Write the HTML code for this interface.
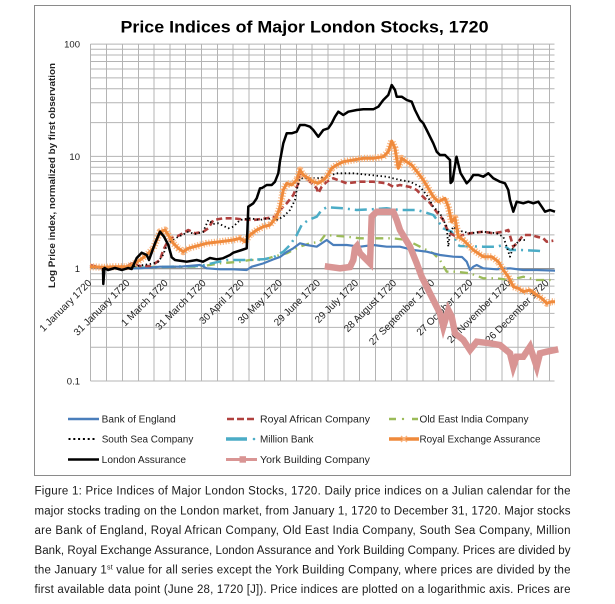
<!DOCTYPE html>
<html><head><meta charset="utf-8"><style>
html,body{margin:0;padding:0;background:#fff;}
svg{display:block;}
text{font-family:"Liberation Sans",Arial,sans-serif;}
</style></head><body>
<svg width="615" height="604" viewBox="0 0 615 604" xmlns="http://www.w3.org/2000/svg">
<rect x="0" y="0" width="615" height="604" fill="#fff"/>
<rect x="34.5" y="5.5" width="536" height="470" fill="none" stroke="#8a8a8a" stroke-width="1"/>
<text x="120.5" y="32.5" font-size="17" font-weight="bold" fill="#000" textLength="368" lengthAdjust="spacingAndGlyphs">Price Indices of Major London Stocks, 1720</text>

<!-- gridlines -->
<g stroke="#b4b4b4" stroke-width="1" fill="none">
<path d="M90.5 44V381 M106.5 44V381 M122.5 44V381 M138.5 44V381 M154 44V381 M170 44V381 M185.5 44V381 M201.5 44V381 M217.5 44V381 M233 44V381 M249 44V381 M264.5 44V381 M280.5 44V381 M296.5 44V381 M312 44V381 M328 44V381 M344 44V381 M359.5 44V381 M375.5 44V381 M391.5 44V381 M407 44V381 M423 44V381 M438.5 44V381 M454.5 44V381 M470.5 44V381 M486 44V381 M502 44V381 M518 44V381 M533.5 44V381 M549.5 44V381"/>
<path d="M90.5 44.1H554.5 M90.5 49.2H554.5 M90.5 55H554.5 M90.5 61.5H554.5 M90.5 69H554.5 M90.5 77.9H554.5 M90.5 88.8H554.5 M90.5 102.8H554.5 M90.5 122.6H554.5 M90.5 156.4H554.5
M90.5 161.5H554.5 M90.5 167.3H554.5 M90.5 173.8H554.5 M90.5 181.3H554.5 M90.5 190.2H554.5 M90.5 201.1H554.5 M90.5 215.1H554.5 M90.5 234.9H554.5
M90.5 273.8H554.5 M90.5 279.6H554.5 M90.5 286.1H554.5 M90.5 293.6H554.5 M90.5 302.5H554.5 M90.5 313.4H554.5 M90.5 327.4H554.5 M90.5 347.2H554.5 M90.5 381H554.5"/>
</g>
<path d="M90.5 268.7H554.5" stroke="#868686" stroke-width="1.2"/>

<!-- y labels -->
<g font-size="9.5" fill="#222" text-anchor="end">
<text x="80" y="47.5">100</text>
<text x="80" y="159.8">10</text>
<text x="80" y="272.1">1</text>
<text x="80" y="384.4">0.1</text>
</g>
<text transform="translate(55,175.5) rotate(-90)" text-anchor="middle" font-size="9.5" font-weight="bold" fill="#222" textLength="225" lengthAdjust="spacingAndGlyphs">Log Price index, normalized by first observation</text>

<!-- x labels -->
<g font-size="10" fill="#222" text-anchor="end">
<text transform="translate(92.2,283.5) rotate(-45)">1 January 1720</text>
<text transform="translate(130.3,283.5) rotate(-45)">31 January 1720</text>
<text transform="translate(168.4,283.5) rotate(-45)">1 March 1720</text>
<text transform="translate(206.5,283.5) rotate(-45)">31 March 1720</text>
<text transform="translate(244.6,283.5) rotate(-45)">30 April 1720</text>
<text transform="translate(282.7,283.5) rotate(-45)">30 May 1720</text>
<text transform="translate(320.8,283.5) rotate(-45)">29 June 1720</text>
<text transform="translate(358.9,283.5) rotate(-45)">29 July 1720</text>
<text transform="translate(397,283.5) rotate(-45)">28 August 1720</text>
<text transform="translate(435.1,283.5) rotate(-45)">27 September 1720</text>
<text transform="translate(473.2,283.5) rotate(-45)">27 October 1720</text>
<text transform="translate(511.3,283.5) rotate(-45)">26 November 1720</text>
<text transform="translate(549.4,283.5) rotate(-45)">26 December 1720</text>
</g>

<!-- series -->
<g fill="none" stroke-linejoin="round">
<!-- Old East India -->
<polyline stroke="#9bbb59" stroke-width="2.3" stroke-dasharray="8 5 1.5 5" points="90,267 140,267 200,266.7 220,263.3 240,261.7 250,260 263.3,260 273.3,256.7 286.7,253.3 300,246.7 310,243.3 320,241.7 325,235 346.7,236.7 360,238.3 393.3,238.3 406.7,240 420,246.7 433.3,253.3 440,260 446.7,271.7 456.7,271.7 470,273.3 483.3,278.3 496.7,278.3 510,280 523.3,276.7 536.7,280 553.3,280"/>
<!-- Million Bank -->
<polyline stroke="#4bacc6" stroke-width="2.5" stroke-dasharray="12 5 2 5" points="90,266.7 126.7,268.3 160,267 200,266 226.7,260 246.7,260 263.3,259.3 273.3,257.3 283.3,251.7 290,245 296.7,235 301.7,225 308.3,220 316.7,216.7 321.7,210 326.7,207.3 343.3,208.3 356.7,210 370,209.3 386.7,208.3 400,210 416.7,210 423.3,211.7 433.3,215 443.3,228.3 451.7,231.7 458,245 460,246 483.3,246.7 496.7,246.7 503.3,245 510,250 520,250 536.7,250.7 545,251.5"/>
<!-- Bank of England -->
<polyline stroke="#4a7ebb" stroke-width="2.2" points="90,266.7 100,268.3 120,268.3 140,268.3 160,266.7 180,266.7 200,265 206.7,268.3 220,269.3 233.3,269.3 246.7,270 251.7,266.7 263,263.5 273,259.5 280,257 286.7,252 293.3,248.3 300,243.3 306.7,245 316.7,246.7 326.7,240 333.3,245 346.7,245 360,246.7 373.3,245 386.7,246.7 400,246.7 413.3,250 426.7,251.7 440,255 453.3,256.7 462,257 466.7,261.7 470,270 473.3,266.7 476.7,265 483.3,268.3 496.7,269.3 510,268.3 523.3,270 536.7,270 555,270.7"/>
<!-- Royal African -->
<polyline stroke="#b0413e" stroke-width="2.6" stroke-dasharray="6 3.5" points="90,265 103.3,268.3 126.7,266.7 131.7,263.3 140,266 150,266 155,263.3 160,260 163.3,250 166.7,243.3 171.7,238.3 180,235 188.3,230 195,233.3 203.3,231.7 208.3,228.3 213.3,220 223.3,218.3 233.3,218.3 241.7,219.3 253.3,220 266.7,218.3 275,216.7 280,210 286.7,203.3 293.3,195 298.3,183.3 300,171.7 305,176.7 310,181.7 316.7,188.3 318.3,193.3 321.7,186.7 326.7,181.7 333.3,178.3 346.7,183.3 360,181.7 373.3,181.7 386.7,183.3 393.3,186.7 400,185 410,187 416.7,190 423.3,197 430,203 436.7,212 443.3,220 446.7,228.3 450,233.3 456.7,236.7 470,233.3 483.3,231.7 493.3,233.3 503.3,231.7 508.3,230 513.3,246.7 518.3,241.7 523.3,235 531.7,235 536.7,236.7 543.3,238.3 546.7,241.7 553.3,240.7"/>
<!-- South Sea -->
<polyline stroke="#000" stroke-width="1.8" stroke-dasharray="1.4 2.6" points="90,267 110,268 130,267 150,264 158,262 163,255 167,245 172,240 180,236 188,232 195,234 203,232 208.3,220 213,224 218.3,223.3 228.3,228.3 233.3,226.7 240,220 250,218.3 260,220 266.7,218.3 276.7,220 283.3,216.7 290,210 295,200 296.7,190 300,178.3 306.7,178.3 316.7,178.3 326.7,176.7 336.7,173.3 353.3,173.3 370,175 386.7,176.7 400,180 410,181.7 420,186.7 426.7,195 433.3,206.7 440,213.3 446.7,226.7 448.3,246.7 450,233.3 453.3,226.7 456.7,230 470,233.3 483.3,231.7 496.7,233.3 503.3,236.7 510,256.7 513.3,246.7 520,240 527,240"/>
<!-- York Building -->
<polyline stroke="#d99594" stroke-width="6.5" stroke-linejoin="miter" stroke-linecap="square" points="328,266.7 340,268.3 350,267 353.3,260 355,248.3 357,246 360,253.3 366.7,260 370,263.3 371.7,216.7 376.7,211.7 393.3,211.7 396.7,220 400,230 410,246.7 416.7,263.3 421.7,276.7 428.3,290 433.3,300 440,313.3 443.3,326.7 448.3,310 451.7,316.7 455,333.3 463.3,340 470,350 476.7,341.7 490,343.3 500,345 510,353.3 513.3,366.7 516.7,356.7 523.3,356.7 530,346.7 536.7,366.7 540,353.3 546.7,351.7 555,350"/>
<!-- Royal Exchange -->
<polyline stroke="#f9b47e" stroke-width="7" stroke-dasharray="1.2 1.6" points="90,266.7 103.3,267.3 115,266.7 126.7,266.7 131.7,265 140,260 146.7,255 153.3,248.3 156.7,240 160,231.7 165,230 168.3,235 173.3,243.3 178.3,248.3 183.3,251.7 188.3,248.3 196.7,246 206.7,243.3 220,241.7 233.3,240 240,238.3 245,241.7 250,235 256.7,230 263.3,226.7 270,225 276.7,216.7 280,206.7 283.3,190 286.7,183.3 291.7,185 296.7,180 300,170 303.3,175 308.3,178.3 313.3,181.7 318.3,183.3 323.3,180 326.7,176.7 331.7,168.3 336.7,165 343.3,161.7 353.3,160 363.3,158.3 373.3,158.3 383.3,156.7 388.3,151.7 391.7,141 395,148.3 398.3,168.3 401.7,158.3 406.7,161.7 411.7,165 418.3,173.3 423.3,180 428.3,188.3 433.3,196.7 438.3,201.7 445,198.3 448.3,206.7 451.7,222 455,218 458.3,236.7 463.3,240 468.3,245 473.3,250 483.3,256.7 491.7,256.7 498.3,261.7 503.3,270 508.3,276.7 513.3,286.7 518.3,288.3 523.3,291.7 530,290 536.7,295 541.7,298.3 546.7,303.3 551.7,301.7 555,301.7"/>
<polyline stroke="#ef8a3c" stroke-width="3" points="90,266.7 103.3,267.3 115,266.7 126.7,266.7 131.7,265 140,260 146.7,255 153.3,248.3 156.7,240 160,231.7 165,230 168.3,235 173.3,243.3 178.3,248.3 183.3,251.7 188.3,248.3 196.7,246 206.7,243.3 220,241.7 233.3,240 240,238.3 245,241.7 250,235 256.7,230 263.3,226.7 270,225 276.7,216.7 280,206.7 283.3,190 286.7,183.3 291.7,185 296.7,180 300,170 303.3,175 308.3,178.3 313.3,181.7 318.3,183.3 323.3,180 326.7,176.7 331.7,168.3 336.7,165 343.3,161.7 353.3,160 363.3,158.3 373.3,158.3 383.3,156.7 388.3,151.7 391.7,141 395,148.3 398.3,168.3 401.7,158.3 406.7,161.7 411.7,165 418.3,173.3 423.3,180 428.3,188.3 433.3,196.7 438.3,201.7 445,198.3 448.3,206.7 451.7,222 455,218 458.3,236.7 463.3,240 468.3,245 473.3,250 483.3,256.7 491.7,256.7 498.3,261.7 503.3,270 508.3,276.7 513.3,286.7 518.3,288.3 523.3,291.7 530,290 536.7,295 541.7,298.3 546.7,303.3 551.7,301.7 555,301.7"/>
<!-- London Assurance -->
<polyline stroke="#000" stroke-width="2.5" points="103,268 103.3,284 104.5,268 108,270 115,268 122,270 128,268 131.7,269 136.7,258 141.7,252.7 146.7,255 149,260 155,243.3 160,231.7 164,236.7 168.3,245 171.7,257.3 175,260 180,260.7 186.7,261.7 196.7,260 203,261.7 210,258 216.7,259.3 223,258.3 230,255 233.3,252.7 241.7,250 246.7,248.3 248.3,206.7 253.3,203.3 256.7,198.3 260,188.3 262,188 266.7,185 271.7,185 275,181.7 278.3,173.3 280,161 283.3,143.3 286.7,133.3 291.7,133.3 296.7,131.7 300,125 305,125 310,126.7 313.3,130 318.3,136.7 323.3,130 328.3,128.3 331.7,123.3 335,116.7 338.3,111.7 343.3,115 348.3,111.7 356.7,110 363.3,109.3 373.3,109.3 378.3,106.7 383.3,100 388.3,95 391.7,85 395,90 396.7,96.7 401.7,96.7 406.7,100 411.7,101.7 415,110 420,120 423.3,123.3 426.7,130 430,136.7 433.3,143.3 436.7,151.7 440,155 445,155 450,160 450.6,183 452.5,181 456.5,156.7 460.5,173 466.7,183.3 470,180 473.3,175 478.3,175 483.3,176.7 488.3,173.3 493.3,178.3 500,181.7 505,183.3 508.3,190 510,200 513.3,211.7 516.7,201.7 523.3,203.3 528.3,201.7 533.3,203.3 538.3,201.7 541.7,206.7 545,211.7 550,210 555,211.7"/>
</g>

<!-- legend -->
<g fill="none">
<line x1="68" y1="419" x2="99" y2="419" stroke="#4a7ebb" stroke-width="2.5"/>
<line x1="68.5" y1="439" x2="96" y2="439" stroke="#000" stroke-width="2" stroke-dasharray="2 2.8"/>
<line x1="68" y1="459.5" x2="99" y2="459.5" stroke="#000" stroke-width="2.5"/>
<line x1="227" y1="419" x2="254" y2="419" stroke="#b0413e" stroke-width="2.6" stroke-dasharray="7 3"/>
<line x1="226" y1="439" x2="247" y2="439" stroke="#4bacc6" stroke-width="3.5"/>
<circle cx="254" cy="439" r="1.3" fill="#4bacc6"/>
<line x1="226" y1="459.5" x2="257" y2="459.5" stroke="#d99594" stroke-width="3"/>
<rect x="239.5" y="456.2" width="6.5" height="6.5" fill="#d99594"/>
<line x1="389" y1="419" x2="396" y2="419" stroke="#9bbb59" stroke-width="2.5"/>
<circle cx="403" cy="419" r="1.2" fill="#9bbb59"/>
<line x1="412" y1="419" x2="418" y2="419" stroke="#9bbb59" stroke-width="2.5"/>
<line x1="389" y1="439" x2="419" y2="439" stroke="#ef8a3c" stroke-width="3.5"/>
<path d="M401 436L407 442M407 436L401 442" stroke="#f9b47e" stroke-width="1.3"/>
</g>
<g font-size="10" fill="#222">
<text x="101.7" y="422.5" textLength="74" lengthAdjust="spacingAndGlyphs">Bank of England</text>
<text x="101.7" y="442.5" textLength="91.6" lengthAdjust="spacingAndGlyphs">South Sea Company</text>
<text x="101.7" y="463" textLength="84.3" lengthAdjust="spacingAndGlyphs">London Assurance</text>
<text x="260" y="422.5" textLength="110" lengthAdjust="spacingAndGlyphs">Royal African Company</text>
<text x="260" y="442.5" textLength="53.5" lengthAdjust="spacingAndGlyphs">Million Bank</text>
<text x="260" y="463" textLength="110" lengthAdjust="spacingAndGlyphs">York Building Company</text>
<text x="419.5" y="422.5" textLength="109" lengthAdjust="spacingAndGlyphs">Old East India Company</text>
<text x="419.5" y="442.5" textLength="121" lengthAdjust="spacingAndGlyphs">Royal Exchange Assurance</text>
</g>

<!-- caption -->
<g font-size="11.5" fill="#1a1a1a">
<text x="34.5" y="494.7" textLength="536" lengthAdjust="spacing">Figure 1: Price Indices of Major London Stocks, 1720. Daily price indices on a Julian calendar for the</text>
<text x="34.5" y="514.4" textLength="536" lengthAdjust="spacing">major stocks trading on the London market, from January 1, 1720 to December 31, 1720. Major stocks</text>
<text x="34.5" y="534.1" textLength="536" lengthAdjust="spacing">are Bank of England, Royal African Company, Old East India Company, South Sea Company, Million</text>
<text x="34.5" y="553.8" textLength="536" lengthAdjust="spacing">Bank, Royal Exchange Assurance, London Assurance and York Building Company. Prices are divided by</text>
<text x="34.5" y="573.5" textLength="536" lengthAdjust="spacing">the January 1<tspan font-size="7" dy="-4">st</tspan><tspan dy="4"> value for all series except the York Building Company, where prices are divided by the</tspan></text>
<text x="34.5" y="593.2" textLength="536" lengthAdjust="spacing">first available data point (June 28, 1720 [J]). Price indices are plotted on a logarithmic axis. Prices are</text>
</g>
</svg>
</body></html>
